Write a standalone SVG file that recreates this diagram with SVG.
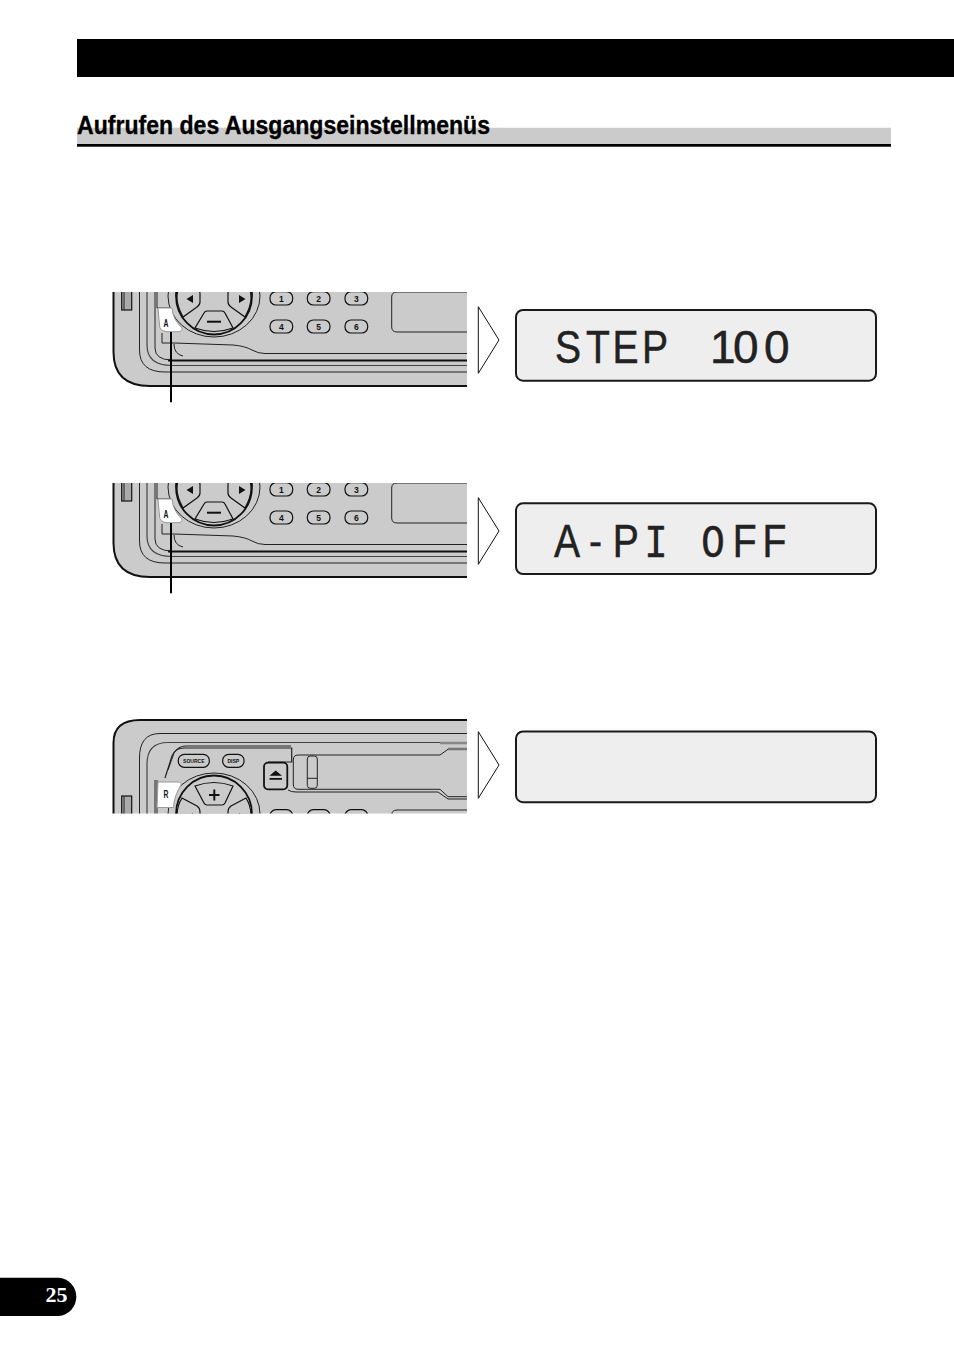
<svg xmlns="http://www.w3.org/2000/svg" width="954" height="1355" viewBox="0 0 954 1355">
<style>
.l{fill:none;stroke:#222;stroke-width:1}
.b{fill:#cbcbcb;stroke:#111;stroke-width:1.2}
.w{fill:#fff;stroke:#999;stroke-width:1}
.k{font-family:"Liberation Sans",Arial,sans-serif;font-weight:bold;font-size:8.5px;fill:#111;text-anchor:middle}
.s{font-family:"Liberation Sans",Arial,sans-serif;font-weight:bold;font-size:5px;fill:#111;text-anchor:middle}
.n{font-family:"Liberation Sans",Arial,sans-serif;font-weight:bold;font-size:11px;fill:#111;text-anchor:middle}
.disp{fill:#eeeeee;stroke:#1a1a1a;stroke-width:2}
.lcd{font-family:"Liberation Sans",Arial,sans-serif;font-size:46px;fill:#222;stroke:#222;stroke-width:.5}
.m{font-family:"Liberation Mono",monospace}
.arr{fill:#fff;stroke:#111;stroke-width:1}
.lead{stroke:#000;stroke-width:2;fill:none}
</style>
<defs>
<clipPath id="c1"><rect x="100" y="292" width="367" height="96"/></clipPath>
<clipPath id="c3"><rect x="100" y="200" width="367" height="95.5"/></clipPath>
<g id="device">
<path d="M113.5,225 Q113.5,202 140,202 H480 V386 H150 Q113.5,386 113.5,352 Z" fill="#cbcbcb" stroke="#111" stroke-width="2"/>
<path class="l" d="M480,215.5 H160 Q139.5,215.5 139.5,240 V350 Q139.5,372 165,372 H480"/>
<path d="M480,224.5 H168 Q147,224.5 147,246 V345 Q147,365.5 172,365.5 H480" fill="none" stroke="#444" stroke-width="1.2"/>
<path d="M440,225 H480" stroke="#888" stroke-width="2.5" fill="none"/>
<path class="l" d="M155,262 V348 Q155,360 172,360"/>
<path d="M168,360.5 H480" stroke="#111" stroke-width="1.8" fill="none"/>
<path class="l" d="M174,344 Q174,354 183,356 M162,333 V343 H174 L233,345 Q245,346 252,350 Q258,353.5 265,353.5 H480"/>
<path d="M165,260 L172,238 Q175,230 184,230 H291.7 V244 H268" fill="none" stroke="#222" stroke-width="1.2"/>
<path class="l" d="M168,252 L174,235 Q178,228 186,228 H291"/>
<path class="l" d="M480,231.3 H448 L440,237 H298 Q293.3,237 293.3,242 V266 Q293.3,271.3 298,271.3 H440 L448,278.7 H480"/>
<path class="l" d="M288,272 Q291,274 296,274 H438 L448,281 H480"/>
<path d="M448,231 H480" stroke="#777" stroke-width="2.5" fill="none"/>
<rect x="307.3" y="238" width="10" height="32.3" rx="3" class="l"/>
<path class="l" d="M307.3,260.3 H317.3"/>
<rect x="178.3" y="236.3" width="31" height="13" rx="6" class="b"/>
<text x="193.8" y="245" class="s">SOURCE</text>
<rect x="222.7" y="236.3" width="21.3" height="13" rx="6" class="b"/>
<text x="233.3" y="245" class="s">DISP</text>
<rect x="264" y="244.7" width="23.3" height="26.6" rx="4" fill="#cbcbcb" stroke="#111" stroke-width="1.8"/>
<path d="M269.5,257.8 L275.7,252.5 L282,257.8 Z M269.5,260 H282 V261.7 H269.5 Z" fill="#111"/>
<rect x="121.7" y="278" width="10" height="32" fill="#aaa" stroke="#111" stroke-width="1.2"/>
<path class="l" d="M124,278 V310"/>
<path class="l" d="M157,262 V308 H172"/>
<ellipse cx="214" cy="296" rx="46" ry="41" fill="#cbcbcb" stroke="#222" stroke-width="1"/>
<ellipse cx="214" cy="296" rx="38" ry="38.5" fill="#cbcbcb" stroke="#111" stroke-width="1.8"/>
<path class="b" d="M182,280 L197,288 Q200,290 200,294 V302 Q200,305 197,307 L183,317 Q177,306 177,298 Q177,288 182,280Z"/>
<path class="b" d="M246,280 L231,288 Q228,290 228,294 V302 Q228,305 231,307 L245,317 Q251,306 251,298 Q251,288 246,280Z"/>
<path d="M186.5,299 L193,295 V303 Z M245.5,299 L239,295 V303 Z" fill="#111"/>
<path class="b" d="M207,311 H222 Q224,311 225,313 L233,328 Q214,335 195,328 L204,313 Q205,311 207,311Z"/>
<path d="M207,321.7 H221" stroke="#111" stroke-width="2"/>
<path class="b" d="M207,287 H222 Q224,287 225,285 L233,268 Q214,261 195,268 L204,285 Q205,287 207,287Z"/>
<path d="M209,277 H219.5 M214.3,271.5 V282.5" stroke="#111" stroke-width="2"/>
<g>
<rect x="270" y="291.7" width="22.7" height="13.3" rx="6" class="b"/><text x="281.3" y="301.5" class="k">1</text>
<rect x="307.3" y="291.7" width="22.7" height="13.3" rx="6" class="b"/><text x="318.6" y="301.5" class="k">2</text>
<rect x="345" y="291.7" width="22.7" height="13.3" rx="6" class="b"/><text x="356.3" y="301.5" class="k">3</text>
<rect x="270" y="320" width="22.7" height="13" rx="6" class="b"/><text x="281.3" y="329.5" class="k">4</text>
<rect x="307.3" y="320" width="22.7" height="13" rx="6" class="b"/><text x="318.6" y="329.5" class="k">5</text>
<rect x="345" y="320" width="22.7" height="13" rx="6" class="b"/><text x="356.3" y="329.5" class="k">6</text>
</g>
<path d="M480,292 H397 Q391.7,292 391.7,297 V327 Q391.7,332 397,332 H480" fill="none" stroke="#222" stroke-width="1"/>
</g>
<g id="btnA">
<path class="w" d="M158,308 H172 Q173,320 182,328 Q182.5,331.7 178,331.7 H167 Q159.5,331 159.5,325 Z"/>
<text transform="translate(166,326.5) scale(.62,1)" class="n">A</text>
</g>
</defs>

<rect id="header-bar" x="77" y="39" width="877" height="38" fill="#000"/>

<g id="heading">
<rect x="77" y="127.7" width="814" height="16.6" fill="#cbcbcb"/>
<rect x="77" y="144" width="814" height="2.7" fill="#000"/>
<text x="77" y="134.3" font-family="Liberation Sans, Arial, sans-serif" font-weight="bold" font-size="25.5" textLength="413" lengthAdjust="spacingAndGlyphs" fill="#000" stroke="#000" stroke-width=".35">Aufrufen des Ausgangseinstellmenüs</text>
</g>

<g id="panel-1" clip-path="url(#c1)">
<use href="#device"/>
<use href="#btnA"/>
</g>
<g id="panel-2" transform="translate(0,191)">
<g clip-path="url(#c1)">
<use href="#device"/>
<use href="#btnA"/>
</g>
</g>
<g id="panel-3" transform="translate(0,518)">
<g clip-path="url(#c3)">
<use href="#device"/>
<path class="w" d="M158,264 H178 Q182,264 181,267 Q174,278 173.5,289.5 H157 Z"/>
<text transform="translate(166,280) scale(.62,1)" class="n">R</text>
</g>
</g>

<g id="connectors">
<path class="lead" d="M171,332 V402.3"/>
<path class="lead" d="M171,523 V593.3"/>
<path class="arr" d="M478.3,306.7 L499,340 L478.3,373.3 Z"/>
<path class="arr" d="M478.3,497.7 L499,531 L478.3,564.3 Z"/>
<path class="arr" d="M478.3,731.7 L499,765 L478.3,798.3 Z"/>
</g>

<g id="display-1">
<rect x="516" y="310" width="360" height="70.7" rx="7" class="disp"/>
<text class="lcd" transform="translate(0,363.3) scale(.85,1)" x="652.9 689.4 720.6 755.3" y="0">STEP</text>
<text class="lcd" x="710 733 764" y="363.3">100</text>
</g>
<g id="display-2">
<rect x="516" y="503.3" width="360" height="70.7" rx="7" class="disp"/>
<text class="lcd" transform="translate(0,556.7) scale(.85,1)" y="0"><tspan x="651.8">A</tspan><tspan x="693">-</tspan><tspan x="721">P</tspan><tspan class="m" x="758">I</tspan><tspan x="790"> </tspan><tspan class="m" x="825">O</tspan><tspan x="862">F</tspan><tspan x="897">F</tspan></text>
</g>
<g id="display-3">
<rect x="516" y="731.5" width="360" height="70.7" rx="7" class="disp"/>
</g>

<g id="page-tab">
<path d="M0,1277.7 H58.5 A19.2,19.2 0 0 1 58.5,1316 H0 Z" fill="#000"/>
<text x="45.5" y="1301.7" font-family="Liberation Serif, Times New Roman, serif" font-weight="bold" font-size="22" fill="#fff">25</text>
</g>
</svg>
